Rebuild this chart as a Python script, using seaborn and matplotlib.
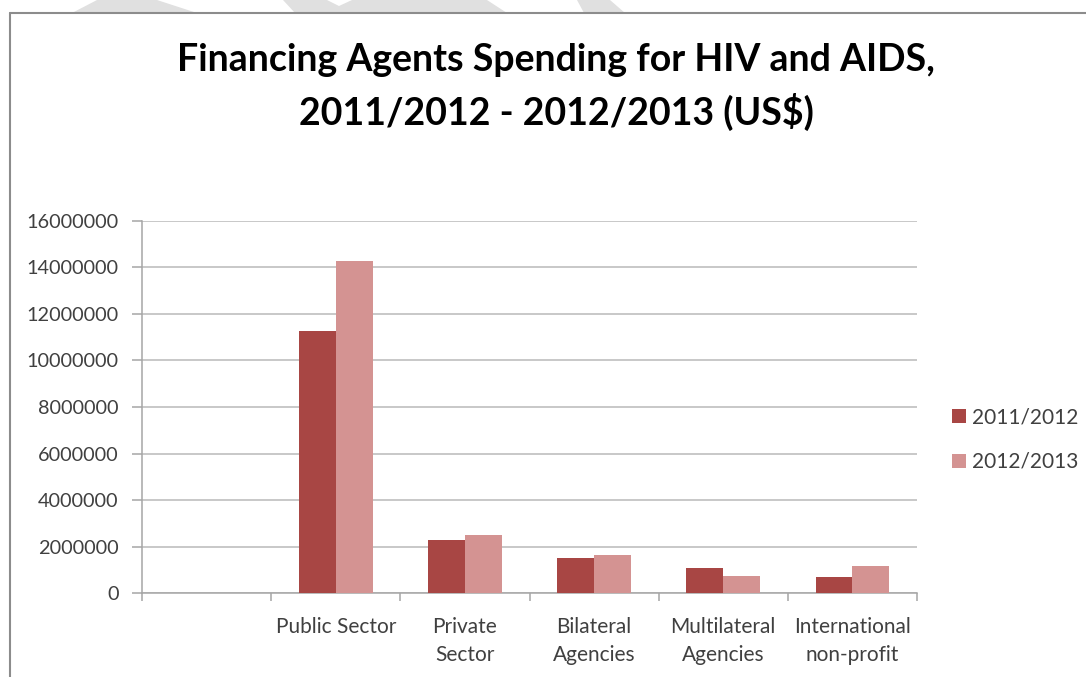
import matplotlib
matplotlib.use("Agg")
import matplotlib.pyplot as plt
from matplotlib.patches import Polygon
from matplotlib.lines import Line2D
import pandas as pd
import seaborn as sns

# Financing agents and spending per fiscal year (US$)
categories = ["", "Public Sector", "Private\nSector", "Bilateral\nAgencies",
              "Multilateral\nAgencies", "International\nnon-profit"]
years = ["2011/2012", "2012/2013"]
spend_2011_2012 = [None, 11270000, 2270000, 1500000, 1100000, 700000]
spend_2012_2013 = [None, 14250000, 2520000, 1660000, 740000, 1190000]
y_ticks = [0, 2000000, 4000000, 6000000, 8000000, 10000000, 12000000, 14000000, 16000000]

rows = []
for cat, a, b in zip(categories, spend_2011_2012, spend_2012_2013):
    if a is not None:
        rows.append({"agent": cat, "year": years[0], "spend": a})
    if b is not None:
        rows.append({"agent": cat, "year": years[1], "spend": b})
df = pd.DataFrame(rows)

sns.set_theme(style="white")
plt.rcParams["font.family"] = ["Lato", "DejaVu Sans"]

W, H = 1086, 677
fig = plt.figure(figsize=(W / 100, H / 100), dpi=100)
fig.patch.set_facecolor("white")


def px(x, y):
    """Pixel position measured from the top-left corner -> figure fraction."""
    return (x / W, 1 - y / H)


# faint watermark strokes above the chart frame
wm = "#e0e0e0"
for pts in ([(72, 13), (97, 0), (157, 0), (197, 13)],
            [(283, 0), (327, 0), (339, 6), (352, 0), (487, 0), (507, 13), (295, 13)],
            [(577, 0), (610, 0), (625, 13), (584, 13)]):
    fig.add_artist(Polygon([px(x, y) for x, y in pts], closed=True,
                           transform=fig.transFigure, facecolor=wm,
                           edgecolor="none", zorder=0))

# chart frame
frame_c = "#8c8c8c"
fig.add_artist(Line2D([px(10, 13)[0], 1.0], [px(10, 13)[1]] * 2,
                      transform=fig.transFigure, color=frame_c, lw=1.5))
fig.add_artist(Line2D([px(10, 13)[0]] * 2, [px(10, 13)[1], 0.0],
                      transform=fig.transFigure, color=frame_c, lw=1.5))

left, bottom = px(142, 593.3)
right, top = px(917, 220.7)
ax = fig.add_axes([left, bottom, right - left, top - bottom])

palette = {years[0]: "#A84644", years[1]: "#D49392"}
sns.barplot(data=df, x="agent", y="spend", hue="year", order=categories,
            hue_order=years, palette=palette, width=0.57, linewidth=0,
            saturation=1, ax=ax, zorder=3)

ax.set_ylim(0, 16000000)
ax.set_xlim(-0.5, len(categories) - 0.5)
ax.set_yticks(y_ticks)
ax.set_yticklabels([str(v) for v in y_ticks])
ax.yaxis.grid(True, color="#c4c4c4", lw=1.3, zorder=0)
ax.set_axisbelow(True)

# category boundaries carry the tick marks, centres carry the labels
n = len(categories)
ax.set_xticks([i - 0.5 for i in range(n + 1)])
ax.set_xticklabels([])
ax.set_xticks(list(range(n)), minor=True)
ax.set_xticklabels(categories, minor=True, linespacing=1.5)
ax.tick_params(axis="x", which="major", length=6, width=1.1, color="#a6a6a6",
               direction="out", bottom=True)
ax.tick_params(axis="x", which="minor", length=0, pad=17, labelsize=15,
               labelcolor="#404040")
ax.tick_params(axis="y", length=7, width=1.1, color="#a6a6a6", direction="out",
               left=True, pad=10, labelsize=14.3, labelcolor="#404040")

for s in ("top", "right"):
    ax.spines[s].set_visible(False)
for s in ("left", "bottom"):
    ax.spines[s].set_color("#a6a6a6")
    ax.spines[s].set_linewidth(1.1)

ax.set_xlabel("")
ax.set_ylabel("")

handles, labels = ax.get_legend_handles_labels()
ax.legend(handles, labels, loc="upper left", bbox_to_anchor=px(952, 407),
          bbox_transform=fig.transFigure, frameon=False, fontsize=15,
          handlelength=0.68, handleheight=0.68, handletextpad=0.3,
          labelspacing=1.2, borderpad=0, borderaxespad=0,
          labelcolor="#404040")

fig.text(px(556, 0)[0], px(0, 87)[1],
         "Financing Agents Spending for HIV and AIDS,\n2011/2012 - 2012/2013 (US$)",
         ha="center", va="center", fontsize=27, fontweight="bold",
         color="#000000", linespacing=1.5)

fig.savefig("out.png", dpi=100, facecolor="white")
